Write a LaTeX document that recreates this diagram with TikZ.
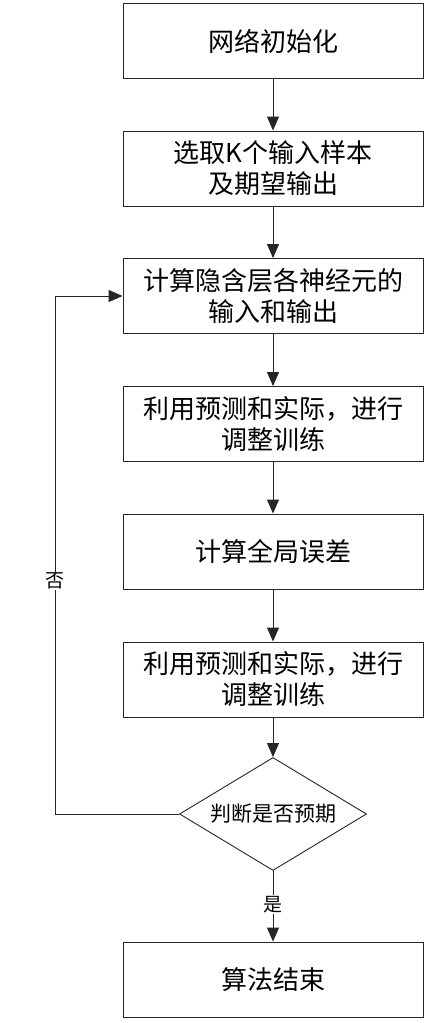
\documentclass[tikz,border=0pt]{standalone}
\usepackage{fontspec}
\setmainfont{Noto Sans CJK SC}
\usetikzlibrary{arrows.meta,shapes.geometric}

\begin{document}
\begin{tikzpicture}[x=1pt,y=-1pt]
\tikzset{
  stepbox/.style={draw=black!85,line width=0.9pt,minimum width=300pt,minimum height=75pt,
    inner sep=0pt,align=center,font=\fontsize{26}{31}\selectfont},
  judge/.style={draw=black!85,line width=0.9pt,diamond,aspect=1.65,minimum width=187pt,
    minimum height=113pt,inner sep=0pt,font=\fontsize{21}{24}\selectfont},
  line/.style={draw=black!85,line width=0.9pt},
  arr/.style={line,-{Triangle[length=14pt,width=12pt]}},
  tag/.style={fill=white,inner sep=1pt,font=\fontsize{19}{22}\selectfont}
}
\useasboundingbox (0,0) rectangle (429,1023);
% boxes
\node [stepbox] (init) at (273,41) {网络初始化};
\node [stepbox] (sample) at (273,168.5) {选取K个输入样本\\及期望输出};
\node [stepbox] (hidden) at (273,296) {计算隐含层各神经元的\\输入和输出};
\node [stepbox] (adjA) at (273,424) {利用预测和实际，进行\\调整训练};
\node [stepbox] (error) at (273,551.5) {计算全局误差};
\node [stepbox] (adjB) at (273,679.5) {利用预测和实际，进行\\调整训练};
\node [judge] (check) at (273,814) {判断是否预期};
\node [stepbox] (finish) at (273,979.5) {算法结束};
% arrows
\draw [arr] (init) -- (sample);
\draw [arr] (sample) -- (hidden);
\draw [arr] (hidden) -- (adjA);
\draw [arr] (adjA) -- (error);
\draw [arr] (error) -- (adjB);
\draw [arr] (adjB) -- (check);
\draw [arr] (check) -- node [tag,pos=0.48] {是} (finish);
% back loop
\coordinate (back) at (55,814);
\draw [arr] (check.west) -- (back) -- node [tag,pos=0.45] {否} (back |- hidden.west) -- (hidden.west);
\end{tikzpicture}
\end{document}
